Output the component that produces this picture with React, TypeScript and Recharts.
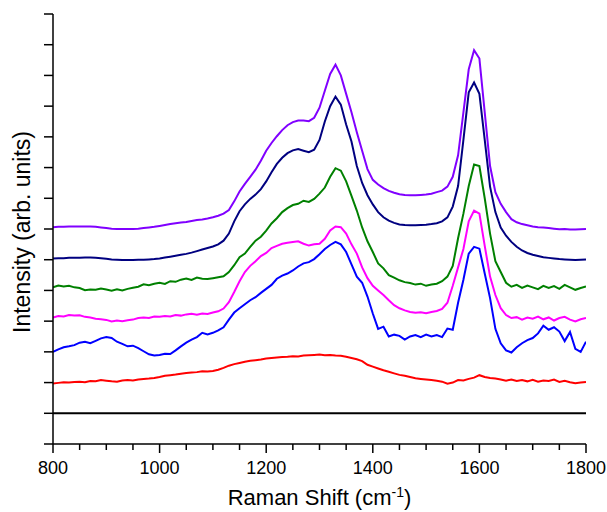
import React from 'react';
import { LineChart, Line, XAxis, YAxis } from 'recharts';

// Raman shift grid (cm-1), step 10
const shifts = [
  800, 810, 820, 830, 840, 850, 860, 870, 880, 890,
  900, 910, 920, 930, 940, 950, 960, 970, 980, 990,
  1000, 1010, 1020, 1030, 1040, 1050, 1060, 1070, 1080, 1090,
  1100, 1110, 1120, 1130, 1140, 1150, 1160, 1170, 1180, 1190,
  1200, 1210, 1220, 1230, 1240, 1250, 1260, 1270, 1280, 1290,
  1300, 1310, 1320, 1330, 1340, 1350, 1360, 1370, 1380, 1390,
  1400, 1410, 1420, 1430, 1440, 1450, 1460, 1470, 1480, 1490,
  1500, 1510, 1520, 1530, 1540, 1550, 1560, 1570, 1580, 1590,
  1600, 1610, 1620, 1630, 1640, 1650, 1660, 1670, 1680, 1690,
  1700, 1710, 1720, 1730, 1740, 1750, 1760, 1770, 1780, 1790,
  1800,
];

const violet = [
  7.06, 7.07, 7.07, 7.08, 7.08, 7.08, 7.08, 7.08, 7.07, 7.05,
  7.03, 7.01, 7.0, 7.0, 7.0, 7.0, 7.01, 7.03, 7.05, 7.07,
  7.1, 7.13, 7.16, 7.19, 7.21, 7.23, 7.26, 7.29, 7.31, 7.34,
  7.38, 7.43, 7.5, 7.62, 7.9, 8.22, 8.47, 8.7, 8.93, 9.22,
  9.55, 9.8, 10.02, 10.22, 10.38, 10.48, 10.53, 10.53, 10.51, 10.62,
  10.95, 11.5, 12.05, 12.35, 12.0, 11.4, 10.8, 10.15, 9.55, 8.95,
  8.6, 8.45, 8.33, 8.24, 8.18, 8.13, 8.11, 8.1, 8.1, 8.11,
  8.12, 8.15, 8.2, 8.25, 8.38, 8.7, 9.4, 10.8, 12.2, 12.82,
  12.55, 10.8, 9.05, 8.2, 7.82, 7.55, 7.32, 7.22, 7.16, 7.12,
  7.08, 7.06, 7.05, 7.03, 7.01, 6.99, 7.0, 6.98, 6.98, 6.99,
  7.0,
];

const navy = [
  6.04, 6.05, 6.05, 6.06, 6.06, 6.06, 6.07, 6.07, 6.06, 6.05,
  6.03, 6.01, 6.0, 5.99, 5.99, 5.99, 6.0, 6.0, 6.01, 6.02,
  6.04, 6.07, 6.1, 6.13, 6.16, 6.19, 6.23, 6.28, 6.33, 6.38,
  6.43, 6.5, 6.62, 6.85, 7.25, 7.58, 7.8, 7.98, 8.12, 8.3,
  8.55, 8.85, 9.12, 9.32, 9.47, 9.56, 9.6, 9.55, 9.5, 9.58,
  9.9, 10.5, 11.0, 11.31, 11.05, 10.4, 9.85, 9.05, 8.5, 8.1,
  7.8, 7.55, 7.38, 7.27, 7.2, 7.15, 7.13, 7.12, 7.12, 7.13,
  7.14, 7.16, 7.19, 7.25, 7.38, 7.73, 8.4, 9.9, 11.45, 11.77,
  11.4, 9.9, 8.38, 7.55, 7.05, 6.78, 6.58, 6.42, 6.3, 6.22,
  6.16, 6.12, 6.08, 6.06, 6.04, 6.02, 6.01, 6.0, 5.99, 6.0,
  6.01,
];

const green = [
  5.1, 5.16, 5.13, 5.15, 5.1, 5.08, 5.01, 5.03, 5.02, 5.06,
  5.03, 4.99, 5.04, 5.0, 5.05, 5.09, 5.12, 5.2, 5.17, 5.22,
  5.25, 5.21, 5.3, 5.28, 5.35, 5.39, 5.34, 5.42, 5.38, 5.37,
  5.4, 5.43, 5.46, 5.6, 5.82, 6.08, 6.2, 6.42, 6.62, 6.75,
  6.95, 7.18, 7.35, 7.55, 7.68, 7.78, 7.82, 7.92, 7.88, 7.98,
  8.15, 8.35, 8.7, 8.98, 8.9, 8.55, 8.08, 7.6, 7.05, 6.6,
  6.25, 5.88, 5.72, 5.5, 5.42, 5.33, 5.27, 5.24, 5.19, 5.22,
  5.15, 5.19, 5.22, 5.3, 5.45, 5.8, 6.7, 7.5, 8.4, 9.1,
  9.05, 8.0, 6.85, 5.95, 5.6, 5.25, 5.12, 5.18, 5.08, 5.16,
  5.1, 5.04, 5.15, 5.08, 5.14, 5.05, 5.18, 5.1, 5.02, 5.08,
  5.13,
];

const magenta = [
  4.12, 4.17, 4.15, 4.2, 4.18, 4.19, 4.14, 4.12, 4.08, 4.06,
  4.04, 3.99, 4.02, 4.0, 4.03, 4.05, 4.1, 4.12, 4.1, 4.15,
  4.14, 4.17, 4.15, 4.2, 4.18, 4.22, 4.24, 4.21, 4.25, 4.23,
  4.28, 4.32, 4.41, 4.62, 4.95, 5.3, 5.6, 5.8, 5.95, 6.12,
  6.22, 6.38, 6.45, 6.52, 6.55, 6.58, 6.6, 6.52, 6.46, 6.5,
  6.52, 6.68, 6.95, 7.08, 7.06, 6.85, 6.5, 6.2, 5.75, 5.4,
  5.15, 5.0, 4.85, 4.68, 4.52, 4.42, 4.35, 4.3, 4.27, 4.29,
  4.26, 4.3, 4.33, 4.4, 4.6, 5.15, 5.75, 6.35, 7.25, 7.6,
  7.5, 6.45, 5.45, 4.85, 4.42, 4.2, 4.1, 4.13, 4.05, 4.12,
  4.08, 4.15, 4.06, 4.12, 4.02, 4.1, 4.14, 4.05, 3.99, 4.06,
  4.1,
];

const blue = [
  3.0, 3.08, 3.15, 3.18, 3.22, 3.3, 3.33, 3.28, 3.36, 3.44,
  3.48, 3.45, 3.33, 3.26, 3.18, 3.2, 3.12, 3.02, 2.92, 2.88,
  2.9, 2.94, 2.93, 3.05, 3.18, 3.3, 3.4, 3.48, 3.62, 3.57,
  3.62, 3.7, 3.8, 4.05, 4.28, 4.42, 4.55, 4.68, 4.78, 4.92,
  5.05, 5.18, 5.38, 5.48, 5.55, 5.65, 5.78, 5.88, 5.92, 6.02,
  6.18, 6.35, 6.48, 6.58, 6.5, 6.25, 5.85, 5.45, 5.25, 4.8,
  4.25, 3.75, 3.82, 3.5, 3.56, 3.52, 3.4, 3.5, 3.55, 3.48,
  3.56, 3.5, 3.55, 3.48, 3.76, 3.72, 4.6, 5.35, 6.2, 6.42,
  6.36, 5.55, 4.75, 3.75, 3.28, 3.05, 2.98, 3.15, 3.28, 3.38,
  3.45, 3.6, 3.85, 3.72, 3.8, 3.66, 3.35, 3.65, 3.1, 3.0,
  3.33,
];

const red = [
  1.97, 1.99, 2.01, 2.0, 2.02, 2.03, 2.01, 2.05, 2.04, 2.08,
  2.06, 2.04, 2.03, 2.07, 2.08, 2.07, 2.1, 2.12, 2.13, 2.15,
  2.18, 2.22, 2.24, 2.26, 2.29, 2.31, 2.33, 2.34, 2.37, 2.36,
  2.38, 2.42, 2.48, 2.55, 2.6, 2.64, 2.68, 2.71, 2.73, 2.75,
  2.78, 2.8, 2.82, 2.83, 2.84, 2.86, 2.85, 2.88, 2.89, 2.9,
  2.91, 2.89, 2.9, 2.88, 2.87, 2.84, 2.8, 2.76, 2.7, 2.58,
  2.52, 2.46, 2.4, 2.35, 2.3, 2.25, 2.22, 2.18, 2.14, 2.12,
  2.1, 2.08, 2.06, 2.03, 1.96, 2.0, 2.08, 2.07, 2.12, 2.16,
  2.24, 2.18, 2.15, 2.13, 2.1, 2.06, 2.1, 2.05, 2.08, 2.04,
  2.09, 2.03, 2.07, 2.05, 2.1, 2.02, 2.06, 2.01, 1.98, 2.0,
  2.02,
];

// flat reference trace
const baselineShifts = [800, 900, 1000, 1100, 1200, 1300, 1400, 1500, 1600, 1700, 1800];
const baseline = [1.0, 1.0, 1.0, 1.0, 1.0, 1.0, 1.0, 1.0, 1.0, 1.0, 1.0];

const xTicks = [
  800, 850, 900, 950, 1000, 1050, 1100, 1150, 1200, 1250, 1300,
  1350, 1400, 1450, 1500, 1550, 1600, 1650, 1700, 1750, 1800,
];
const yTicks = [0, 1, 2, 3, 4, 5, 6, 7, 8, 9, 10, 11, 12, 13, 14];

const data = shifts.map((shift, i) => ({
  shift,
  violet: violet[i],
  navy: navy[i],
  green: green[i],
  magenta: magenta[i],
  blue: blue[i],
  red: red[i],
}));

const baselineData = baselineShifts.map((shift, i) => ({ shift, baseline: baseline[i] }));

const FONT = 'Arial, "Liberation Sans", sans-serif';

const ShiftTick = (props: any) => {
  const { x, y, payload } = props;
  const major = payload.value % 200 === 0;
  return (
    <g>
      <line x1={x} x2={x} y1={y} y2={y + (major ? 9 : 6)} stroke="#000" strokeWidth={1.5} />
      {major && (
        <text x={x} y={y + 30} textAnchor="middle" fontSize={18} fontFamily={FONT} fill="#000">
          {payload.value}
        </text>
      )}
    </g>
  );
};

// y ticks carry no labels, only the tick marks
const IntensityTick = (props: any) => {
  const { x, y } = props;
  return <line x1={x} x2={x + 9} y1={y} y2={y} stroke="#000" strokeWidth={1.5} />;
};

const XTitle = (props: any) => {
  const { viewBox } = props;
  const cx = viewBox.x + viewBox.width / 2;
  return (
    <text x={cx} y={505} textAnchor="middle" fontSize={22} fontFamily={FONT} fill="#000">
      Raman Shift (cm<tspan dy={-8} fontSize={14}>-1</tspan>
      <tspan dy={8}>)</tspan>
    </text>
  );
};

const YTitle = () => (
  <text
    x={30}
    y={232}
    transform="rotate(-90, 30, 232)"
    textAnchor="middle"
    fontSize={23}
    fontFamily={FONT}
    fill="#000"
  >
    Intensity (arb. units)
  </text>
);

const series = [
  { key: 'red', color: '#ff0000' },
  { key: 'blue', color: '#0000ff' },
  { key: 'magenta', color: '#ff00ff' },
  { key: 'green', color: '#008000' },
  { key: 'navy', color: '#000080' },
  { key: 'violet', color: '#8000ff' },
];

export default function App() {
  return (
    <div style={{ width: 607, height: 512, background: '#fff' }}>
      <style>{'body{margin:0;}'}</style>
      <LineChart width={607} height={512} data={data} margin={{ top: 14, right: 21, bottom: 0, left: 0 }}>
        <XAxis
          type="number"
          dataKey="shift"
          domain={[800, 1800]}
          ticks={xTicks}
          interval={0}
          allowDataOverflow
          height={68}
          stroke="#000"
          strokeWidth={1.5}
          tickLine={false}
          tickSize={0}
          tickMargin={0}
          tick={<ShiftTick />}
          label={<XTitle />}
        />
        <YAxis
          type="number"
          domain={[0, 14]}
          ticks={yTicks}
          interval={0}
          width={53}
          stroke="#000"
          strokeWidth={1.5}
          tickLine={false}
          tickSize={9}
          tickMargin={0}
          tick={<IntensityTick />}
          label={<YTitle />}
        />
        <Line
          data={baselineData}
          dataKey="baseline"
          stroke="#000"
          strokeWidth={2}
          dot={false}
          isAnimationActive={false}
        />
        {series.map((s) => (
          <Line
            key={s.key}
            dataKey={s.key}
            stroke={s.color}
            strokeWidth={2}
            dot={false}
            type="linear"
            isAnimationActive={false}
          />
        ))}
      </LineChart>
    </div>
  );
}
